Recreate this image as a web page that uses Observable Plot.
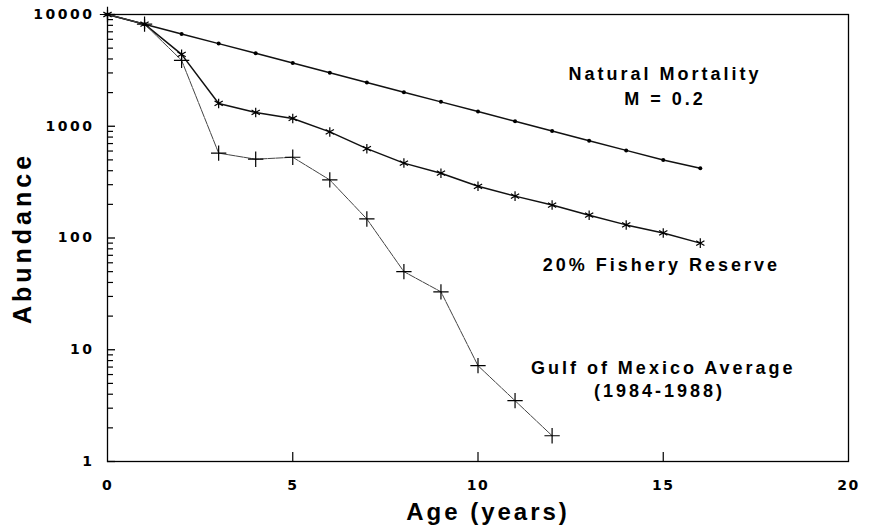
<!DOCTYPE html>
<html>
<head>
<meta charset="utf-8">
<script src="https://cdn.jsdelivr.net/npm/d3@7"></script>
<script src="https://cdn.jsdelivr.net/npm/@observablehq/plot@0.6"></script>
<style>
  html, body { margin: 0; padding: 0; background: #fff; }
  #chart { width: 871px; height: 531px; }
  #chart g[aria-label="y-axis tick label"] text { letter-spacing: 2.5px; }
  #chart g[aria-label="x-axis tick label"] text { letter-spacing: 1.5px; }
</style>
</head>
<body>
<div id="chart"></div>
<script>
// Ages (years)
const agesNatural = [0,1,2,3,4,5,6,7,8,9,10,11,12,13,14,15,16];
const natural = [10000,8187,6703,5488,4493,3679,3012,2466,2019,1653,1353,1108,907,743,608,498,420];

const agesReserve = [0,1,2,3,4,5,6,7,8,9,10,11,12,13,14,15,16];
const reserve = [10000,8200,4400,1600,1330,1175,890,630,468,380,290,237,197,160,131,111,90];

const agesGulf = [0,1,2,3,4,5,6,7,8,9,10,11,12];
const gulf = [10000,8200,3890,575,507,528,331,148,50,33,7.2,3.5,1.7];

const yMajor = [1,10,100,1000,10000];
const yMinor = d3.range(0,4).flatMap(e => [2,3,4,5,6,7,8,9].map(k => k*10**e));
const xTicks = [0,5,10,15,20];
const xInnerTicks = [5,10,15];

const seriesLabels = [
  {x: 15.05, y: 2910, text: "Natural Mortality"},
  {x: 15.05, y: 1742, text: "M = 0.2"},
  {x: 14.95, y: 57.4, text: "20% Fishery Reserve"},
  {x: 15.0, y: 6.9, text: "Gulf of Mexico Average"},
  {x: 14.9, y: 4.22, text: "(1984-1988)"}
];
const yTitle = "Abundance";
const xTitle = "Age (years)";

const toRows = (ages, vals) => ages.map((a,i) => ({age: a, n: vals[i]}));
const natRows = toRows(agesNatural, natural);
const resRows = toRows(agesReserve, reserve);
const gulfRows = toRows(agesGulf, gulf);

const font = "'Liberation Sans', Arial, sans-serif";
const tickFont = "'DejaVu Sans', sans-serif";

const W = 871, H = 531, ML = 107, MR = 23, MT = 14, MB = 70;
const frameW = W - ML - MR, frameH = H - MT - MB;

const plot = Plot.plot({
  width: W,
  height: H,
  marginLeft: ML,
  marginRight: MR,
  marginTop: MT,
  marginBottom: MB,
  style: {fontFamily: font, background: "#fff", color: "#000"},
  x: {domain: [0, 20]},
  y: {type: "log", domain: [1, 10000]},
  marks: [
    Plot.frame({stroke: "#000", strokeWidth: 1.3}),
    // y axis labels
    Plot.axisY({ticks: yMajor, tickSize: 0, tickPadding: 13, tickFormat: d => String(d),
      fontSize: 14, fontWeight: "bold", fontFamily: tickFont, label: null}),
    // inner ticks on the left edge
    Plot.tickY(yMajor, {y: d => d, insetRight: frameW - 8, stroke: "#000", strokeWidth: 1.3}),
    Plot.tickY(yMinor, {y: d => d, insetRight: frameW - 6, stroke: "#000", strokeWidth: 1.2}),
    Plot.axisX({ticks: xTicks, tickSize: 0, tickPadding: 19, fontSize: 14, fontWeight: "bold",
      fontFamily: tickFont, label: null}),
    Plot.tickX(xInnerTicks, {x: d => d, insetTop: frameH - 9, stroke: "#000", strokeWidth: 1.2}),
    Plot.text([yTitle], {frameAnchor: "left", textAnchor: "middle", dx: -85, rotate: -90, fontSize: 25,
      fontWeight: "bold", text: d => d}),
    Plot.text([xTitle], {frameAnchor: "bottom", dx: 10, dy: 58, fontSize: 24, fontWeight: "bold",
      text: d => d}),
    // lines
    Plot.line(natRows, {x: "age", y: "n", stroke: "#111", strokeWidth: 1.5}),
    Plot.line(resRows, {x: "age", y: "n", stroke: "#111", strokeWidth: 1.5}),
    Plot.line(gulfRows, {x: "age", y: "n", stroke: "#444", strokeWidth: 1, strokeDasharray: "7,1"}),
    // markers
    Plot.dot(natRows, {x: "age", y: "n", r: 2, fill: "#000", stroke: "none"}),
    Plot.dot(resRows, {x: "age", y: "n", symbol: "asterisk", r: 4.5, stroke: "#000", strokeWidth: 1.2}),
    Plot.dot(gulfRows, {x: "age", y: "n", symbol: "plus", r: 5, stroke: "#000", strokeWidth: 1.2}),
    // annotations
    Plot.text(seriesLabels, {x: "x", y: "y", text: "text", fontSize: 18, fontWeight: "bold", textAnchor: "middle"})
  ]
});
// letter spacing for titles and annotations
const spacing = new Map([[yTitle, "4px"], [xTitle, "3px"]]);
seriesLabels.forEach(d => spacing.set(d.text, "3px"));
plot.querySelectorAll("text").forEach(t => {
  const s = spacing.get(t.textContent);
  if (s) t.style.letterSpacing = s;
});
document.getElementById("chart").appendChild(plot);
</script>
</body>
</html>
